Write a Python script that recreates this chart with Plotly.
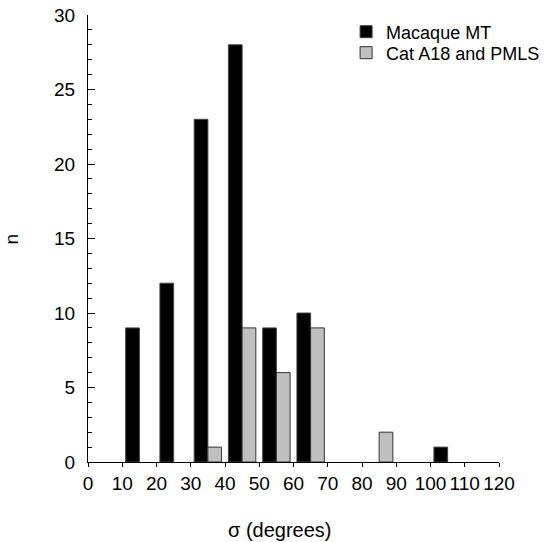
import plotly.graph_objects as go

# Histogram bins (bin centres, degrees); None marks an empty bin
bin_centres = [15, 25, 35, 45, 55, 65, 75, 85, 95, 105]
macaque_counts = [9, 12, 23, 28, 9, 10, None, None, None, 1]
cat_counts = [None, None, 1, 9, 6, 9, None, 2, None, None]

series_names = ["Macaque MT", "Cat A18 and PMLS"]
x_ticks = list(range(0, 121, 10))
y_ticks = list(range(0, 31, 5))

FONT = "Liberation Sans, Arial, sans-serif"
SIZE = 19

fig = go.Figure()
fig.add_bar(
    x=bin_centres, y=macaque_counts, name=series_names[0],
    width=4, offset=-4, legend="legend",
    marker=dict(color="black", line=dict(color="#444444", width=1)),
)
fig.add_bar(
    x=bin_centres, y=cat_counts, name=series_names[1],
    width=4, offset=0, legend="legend2",
    marker=dict(color="#c0c0c0", line=dict(color="#333333", width=1)),
)

legend_style = dict(
    xanchor="left", yanchor="middle", bgcolor="rgba(0,0,0,0)",
    font=dict(size=18), borderwidth=0,
)

fig.update_layout(
    width=552, height=542,
    margin=dict(l=88, r=53, t=15, b=80, autoexpand=False),
    paper_bgcolor="white", plot_bgcolor="white",
    barmode="overlay",
    font=dict(family=FONT, size=SIZE, color="black"),
    showlegend=True,
    legend=dict(x=0.628, y=0.962, **legend_style),
    legend2=dict(x=0.628, y=0.915, **legend_style),
    xaxis=dict(
        range=[0, 120], tickvals=x_ticks, ticktext=[str(v) for v in x_ticks],
        tickangle=0,
        showgrid=False, zeroline=False, showline=True, linecolor="black", linewidth=1,
        ticks="outside", ticklen=4, tickcolor="black", ticklabelstandoff=0,
    ),
    yaxis=dict(
        range=[0, 30], tickvals=y_ticks, ticktext=[str(v) for v in y_ticks],
        showgrid=False, zeroline=False, showline=True, linecolor="black", linewidth=1,
        ticks="inside", ticklen=7, tickcolor="black", ticklabelstandoff=8,
        minor=dict(dtick=1, ticks="inside", ticklen=4, tickcolor="black", showgrid=False),
    ),
    annotations=[
        dict(text="n", xref="paper", yref="paper", x=-0.185, y=0.5,
             textangle=-90, showarrow=False, font=dict(size=SIZE),
             xanchor="center", yanchor="middle"),
        dict(text="σ (degrees)", xref="paper", yref="paper", x=0.467, y=-0.152,
             showarrow=False, font=dict(size=20),
             xanchor="center", yanchor="middle"),
    ],
)

fig.write_html("out.html")
